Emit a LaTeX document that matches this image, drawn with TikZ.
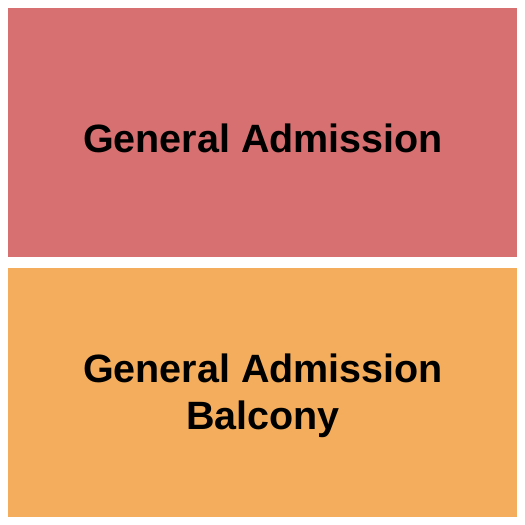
\documentclass[tikz,border=0pt]{standalone}
\usepackage{fontspec}
\setmainfont{Liberation Sans}
\usepackage{tikz}
\usetikzlibrary{positioning}
\definecolor{gared}{HTML}{D77070}
\definecolor{gaorange}{HTML}{F4AD5C}

\begin{document}
\begin{tikzpicture}[x=1pt,y=-1pt,
  section/.style={draw=none,inner sep=0pt,minimum width=509pt,minimum height=249pt},
  seclabel/.style={align=center,inner sep=0pt,font=\bfseries\fontsize{39.5}{46.5}\selectfont}]
\useasboundingbox (0,0) rectangle (525,525);
\node[section,fill=gared] (floor) at (262.5,132.5) {};
\node[section,fill=gaorange] (balcony) at (262.5,392.5) {};
\node[seclabel,anchor=base] (floortext) at (263,152) {General Admission};
\node[seclabel] (balconytext) at (263,396) {General Admission\\Balcony};
\end{tikzpicture}
\end{document}
